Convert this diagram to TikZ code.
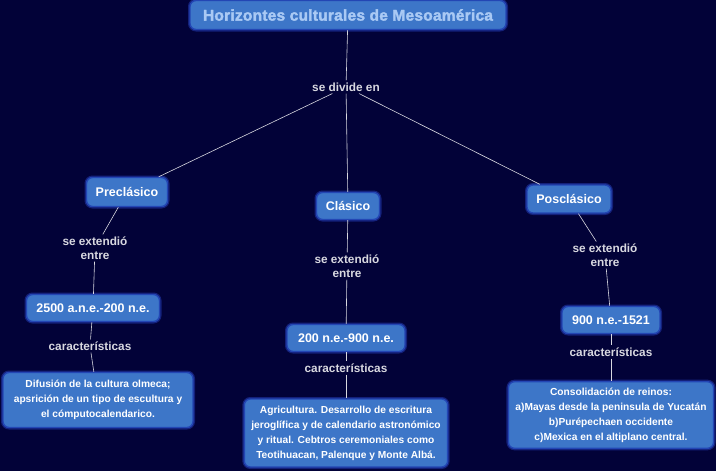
\documentclass[tikz,border=0pt]{standalone}
\usepackage{fontspec}
\setmainfont{Liberation Sans}
\newfontfamily\titlefont[RawFeature={embolden=2.2},LetterSpace=1.5]{Liberation Sans Bold}
\usepackage{tikz}
\usetikzlibrary{positioning}
\definecolor{meso-bg}{HTML}{020238}
\definecolor{meso-box}{HTML}{3D76C8}
\definecolor{meso-rim}{HTML}{2346B4}
\definecolor{meso-glow}{HTML}{14207A}
\definecolor{meso-title}{HTML}{A9C9F4}
\definecolor{meso-line}{HTML}{D8D8E0}

\tikzset{
  conceptbox/.style={rounded corners=6pt,fill=meso-box,draw=meso-rim,line width=1.4pt,
    preaction={draw=meso-glow,line width=4pt,rounded corners=7pt},
    text=white,font=\bfseries\fontsize{12.5}{15}\selectfont,inner xsep=7pt,inner ysep=6pt},
  infobox/.style={conceptbox,align=center,font=\bfseries\fontsize{10.2}{15}\selectfont},
  linklabel/.style={text=meso-line,align=center,font=\bfseries\fontsize{11.8}{14}\selectfont,inner sep=2pt},
  link/.style={draw=meso-line,line width=0.6pt}
}

\begin{document}
\begin{tikzpicture}[x=1pt,y=-1pt]
  \fill[meso-bg] (0,0) rectangle (716,471);
  \useasboundingbox (0,0) rectangle (716,471);

  % title and first split
  \node[conceptbox,text=meso-title,font=\titlefont\fontsize{15.5}{18}\selectfont,minimum width=316pt,minimum height=29pt] (title) at (348,15) {Horizontes culturales de Mesoamérica};
  \node[linklabel] (divide) at (346,87) {se divide en};

  \node[conceptbox,minimum width=81pt,minimum height=29pt] (pre) at (127,192) {Preclásico};
  \node[conceptbox,minimum width=63pt,minimum height=27pt] (cla) at (348,206) {Clásico};
  \node[conceptbox,minimum width=84pt,minimum height=28pt] (pos) at (569,199) {Posclásico};

  % Preclasico branch
  \node[linklabel] (preext) at (95,248) {se extendió\\entre};
  \node[conceptbox,minimum width=133pt,minimum height=27pt] (predate) at (93,308) {2500 a.n.e.-200 n.e.};
  \node[linklabel] (prechar) at (90,346) {características};
  \node[infobox,minimum width=190pt,minimum height=55pt] (predesc) at (98,400) {Difusión de la cultura olmeca;\\apsrición de un tipo de escultura y\\el cómputocalendarico.};

  % Clasico branch
  \node[linklabel] (claext) at (347,266) {se extendió\\entre};
  \node[conceptbox,minimum width=118pt,minimum height=27pt] (cladate) at (346,338) {200 n.e.-900 n.e.};
  \node[linklabel] (clachar) at (346,368) {características};
  \node[infobox,minimum width=202pt,minimum height=68pt] (cladesc) at (346,433) {Agricultura. Desarrollo de escritura\\jeroglífica y de calendario astronómico\\y ritual. Cebtros ceremoniales como\\Teotihuacan, Palenque y Monte Albá.};

  % Posclasico branch
  \node[linklabel] (posext) at (605,255) {se extendió\\entre};
  \node[conceptbox,minimum width=98pt,minimum height=27pt] (posdate) at (611,320) {900 n.e.-1521};
  \node[linklabel] (poschar) at (611,352) {características};
  \node[infobox,minimum width=201pt,minimum height=64pt] (posdesc) at (611,415) {Consolidación de reinos:\\a)Mayas desde la peninsula de Yucatán\\b)Purépechaen occidente\\c)Mexica en el altiplano central.};

  \draw[link] (title) -- (divide);
  \foreach \era in {pre,cla,pos}
    \draw[link] (divide) -- (\era);
  \foreach \era in {pre,cla,pos} {
    \draw[link] (\era) -- (\era ext);
    \draw[link] (\era ext) -- (\era date);
    \draw[link] (\era date) -- (\era char);
    \draw[link] (\era char) -- (\era desc);
  }
\end{tikzpicture}
\end{document}
